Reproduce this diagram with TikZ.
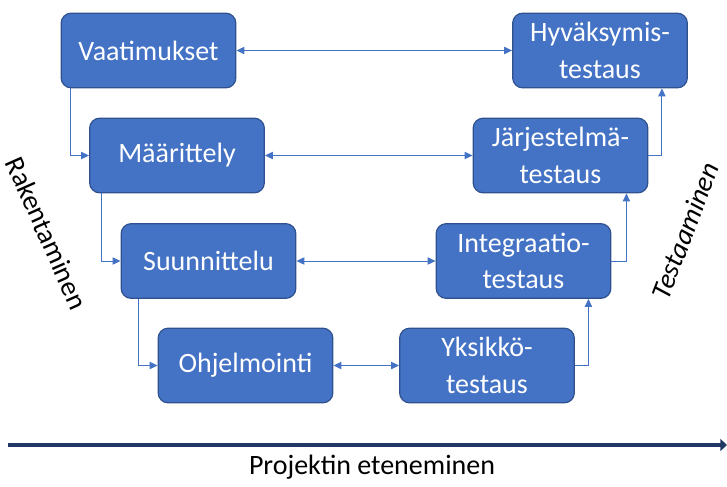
\documentclass[tikz,border=0pt]{standalone}
\usepackage{fontspec}
\setmainfont{Carlito}
\usetikzlibrary{arrows.meta}
\definecolor{boxfill}{HTML}{4472C4}
\definecolor{boxline}{HTML}{2F528F}
\definecolor{connline}{HTML}{4472C4}
\definecolor{axisline}{HTML}{203864}
\tikzset{
  stage/.style={draw=boxline, line width=0.9pt, fill=boxfill, rounded corners=7.5pt,
    minimum width=131pt, minimum height=56pt, text=white, align=center,
    font=\fontsize{21}{27.5}\selectfont, inner sep=0pt},
  conn/.style={draw=connline, line width=0.75pt,
    -{Triangle[length=6pt,width=5.5pt]}},
  link/.style={conn, {Triangle[length=6pt,width=5.5pt]}-{Triangle[length=6pt,width=5.5pt]}},
  axis/.style={draw=axisline, line width=3.4pt, -{Triangle[length=5pt,width=9pt]}},
  sidelabel/.style={font=\fontsize{21}{25}\selectfont, inner sep=0pt}
}
\begin{document}
\begin{tikzpicture}[x=0.75pt, y=-0.75pt]
\useasboundingbox (0,0) rectangle (727,486);

% construction side
\node[stage] (V) at (148.5,50.5) {Vaatimukset};
\node[stage] (M) at (177,155.5) {Määrittely};
\node[stage] (S) at (208.5,261) {Suunnittelu};
\node[stage] (O) at (245.5,365.5) {Ohjelmointi};

% testing side
\node[stage] (H) at (600,50.5) {Hyväksymis-\\testaus};
\node[stage] (J) at (560.5,155.5) {Järjestelmä-\\testaus};
\node[stage] (I) at (523.5,261) {Integraatio-\\testaus};
\node[stage] (Y) at (487,365.5) {Yksikkö-\\testaus};

% descending chain
\draw[conn] ([xshift=7.5pt]V.south west) |- (M.west);
\draw[conn] ([xshift=9pt]M.south west) |- (S.west);
\draw[conn] ([xshift=13.5pt]S.south west) |- (O.west);

% ascending chain
\draw[conn] (Y.east) -| ([xshift=-17.25pt]I.south east);
\draw[conn] (I.east) -| ([xshift=-16.5pt]J.south east);
\draw[conn] (J.east) -| ([xshift=-19.5pt]H.south east);

% level correspondences
\draw[link] (V.east) -- (V.east -| H.west);
\draw[link] (M.east) -- (M.east -| J.west);
\draw[link] (S.east) -- (S.east -| I.west);
\draw[link] (O.east) -- (O.east -| Y.west);

% time axis
\coordinate (axisstart) at (8,445);
\coordinate (axisend) at (727,445);
\draw[axis] (axisstart) -- (axisend);
\node[font=\fontsize{21}{25}\selectfont] (progress) at (372,467) {Projektin eteneminen};

% side labels
\node[sidelabel, rotate=-66] (build) at (47,233) {Rakentaminen};
\node[sidelabel, rotate=69] (test) at (685,231) {\itshape Testaaminen};
\end{tikzpicture}
\end{document}
